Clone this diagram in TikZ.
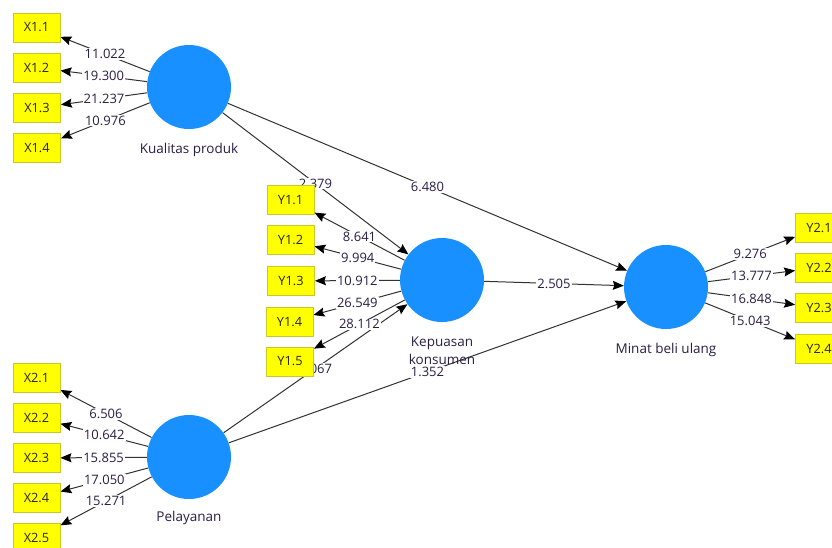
\documentclass[tikz,border=0pt]{standalone}
\usepackage{fontspec}
\setmainfont{Open Sans}
\usetikzlibrary{arrows.meta}
\definecolor{lvblue}{RGB}{24,144,255}
\definecolor{indfill}{RGB}{255,255,0}
\definecolor{inddraw}{RGB}{200,200,40}
\definecolor{numcol}{RGB}{40,30,70}
\definecolor{linecol}{RGB}{50,50,50}
\pgfdeclarelayer{bg}
\pgfsetlayers{bg,main}
\begin{document}
\begin{tikzpicture}[x=1pt,y=-1pt,
 latent/.style={circle,fill=lvblue,minimum size=84pt,inner sep=0pt},
 ind/.style={rectangle,fill=indfill,draw=inddraw,line width=0.8pt,minimum width=47pt,minimum height=29pt,inner sep=0pt,font=\fontsize{12.8}{14}\selectfont,text=black!85},
 lvlabel/.style={font=\fontsize{13.5}{18}\selectfont,text=numcol,align=center},
 conn/.style={draw=linecol,line width=1pt,-{Stealth[length=11pt,width=9pt,inset=1.5pt,color=black]}},
 coef/.style={fill=white,inner sep=1pt,text=numcol,font=\fontsize{13}{14}\selectfont,midway}
]
\useasboundingbox (0,0) rectangle (832,547);
\clip (0,0) rectangle (832,547);
% latent variables
\node[latent] (KP) at (189,87) {};
\node[latent] (KK) at (442,280) {};
\node[latent] (MB) at (666,287) {};
\node[latent] (PL) at (189,457) {};
\node[lvlabel] (lKP) at (189,150) {Kualitas produk};
\node[lvlabel] (lKK) at (442,351) {Kepuasan\\konsumen};
\node[lvlabel] (lMB) at (666,350) {Minat beli ulang};
\node[lvlabel] (lPL) at (189,518) {Pelayanan};
% indicators
\node[ind] (X11) at (36.5,27.5) {X1.1};
\node[ind] (X12) at (36.5,67.5) {X1.2};
\node[ind] (X13) at (37,108) {X1.3};
\node[ind] (X14) at (37,148) {X1.4};
\node[ind] (X21) at (36.5,377.5) {X2.1};
\node[ind] (X22) at (36.5,417.5) {X2.2};
\node[ind] (X23) at (36.5,458) {X2.3};
\node[ind] (X24) at (36.5,498) {X2.4};
\node[ind] (X25) at (36.5,538) {X2.5};
\node[ind] (Y11) at (290.5,200) {Y1.1};
\node[ind] (Y12) at (290.5,240) {Y1.2};
\node[ind] (Y13) at (291,281) {Y1.3};
\node[ind] (Y14) at (289.5,321.5) {Y1.4};
\node[ind] (Y15) at (290,361.5) {Y1.5};
\node[ind] (Y21) at (819,227.5) {Y2.1};
\node[ind] (Y22) at (819,267.5) {Y2.2};
\node[ind] (Y23) at (819,308) {Y2.3};
\node[ind] (Y24) at (819,349) {Y2.4};
\begin{pgfonlayer}{bg}
% structural paths
\draw[conn] (KP) -- node[coef]{2.379} (KK);
\draw[conn] (KP) -- node[coef]{6.480} (MB);
\draw[conn] (KK) -- node[coef]{2.505} (MB);
\draw[conn] (PL) -- node[coef]{2.067} (KK);
\draw[conn] (PL) -- node[coef]{1.352} (MB);
% loadings
\draw[conn] (KP) -- node[coef]{11.022} (X11);
\draw[conn] (KP) -- node[coef]{19.300} (X12);
\draw[conn] (KP) -- node[coef]{21.237} (X13);
\draw[conn] (KP) -- node[coef]{10.976} (X14);
\draw[conn] (PL) -- node[coef]{6.506} (X21);
\draw[conn] (PL) -- node[coef]{10.642} (X22);
\draw[conn] (PL) -- node[coef]{15.855} (X23);
\draw[conn] (PL) -- node[coef]{17.050} (X24);
\draw[conn] (PL) -- node[coef]{15.271} (X25);
\draw[conn] (KK) -- node[coef]{8.641} (Y11);
\draw[conn] (KK) -- node[coef]{9.994} (Y12);
\draw[conn] (KK) -- node[coef]{10.912} (Y13);
\draw[conn] (KK) -- node[coef]{26.549} (Y14);
\draw[conn] (KK) -- node[coef]{28.112} (Y15);
\draw[conn] (MB) -- node[coef]{9.276} (Y21);
\draw[conn] (MB) -- node[coef]{13.777} (Y22);
\draw[conn] (MB) -- node[coef]{16.848} (Y23);
\draw[conn] (MB) -- node[coef]{15.043} (Y24);
\end{pgfonlayer}
\end{tikzpicture}
\end{document}
